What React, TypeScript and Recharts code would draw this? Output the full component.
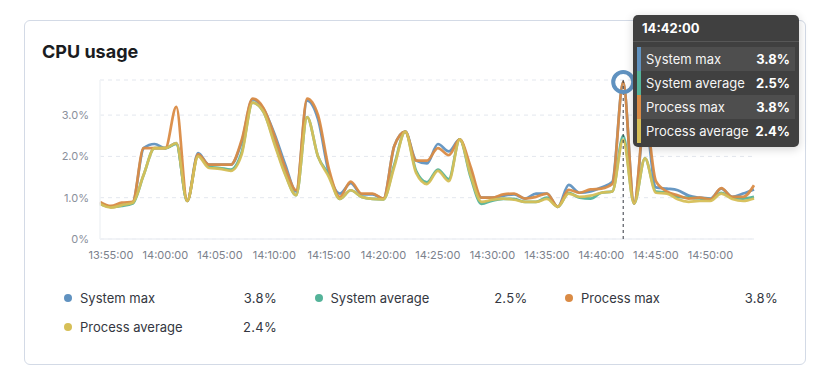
import React from 'react';
import { LineChart, Line, XAxis, YAxis, CartesianGrid, Tooltip } from 'recharts';

// Time axis: minute offsets from 13:54:00, one point per minute
const startMinuteOfDay = 13 * 60 + 54;

const systemMax = [
  0.88, 0.78, 0.82, 0.88, 2.2, 2.3, 2.2, 2.32, 0.92, 2.08,
  1.8, 1.8, 1.8, 2.35, 3.38, 3.15, 2.55, 1.8, 1.15, 3.35,
  2.9, 1.6, 1.1, 1.35, 1.08, 1.08, 0.98, 2.25, 2.6, 1.9,
  1.83, 2.3, 2.12, 2.41, 1.65, 1.0, 1.0, 1.05, 1.08, 0.98,
  1.1, 1.1, 0.78, 1.31, 1.12, 1.15, 1.25, 1.38, 3.8, 0.86,
  2.9, 1.25, 1.22, 1.18, 1.05, 1.0, 0.98, 1.22, 1.02, 1.1,
  1.2,
];
const systemAvg = [
  0.85, 0.78, 0.8, 0.86, 1.55, 2.2, 2.2, 2.3, 0.92, 2.02,
  1.75, 1.72, 1.68, 2.1, 3.3, 3.08, 2.35, 1.58, 1.06, 2.95,
  2.0, 1.55, 0.97, 1.18, 1.02, 0.97, 0.96, 1.8, 2.6, 1.65,
  1.37, 1.68, 1.45, 2.41, 1.5, 0.85, 0.93, 0.97, 0.97, 0.9,
  0.9, 1.0, 0.78, 1.12, 1.0, 0.98, 1.12, 1.15, 2.5, 0.86,
  1.95, 1.15, 1.12, 1.02, 1.0, 0.98, 0.96, 1.12, 1.0, 0.98,
  1.02,
];
const processMax = [
  0.9, 0.8, 0.88, 0.9, 2.2, 2.2, 2.2, 3.2, 0.92, 2.05,
  1.8, 1.8, 1.8, 2.4, 3.4, 3.17, 2.5, 1.72, 1.18, 3.4,
  3.0, 1.7, 1.02, 1.39, 1.1, 1.1, 0.98, 2.25, 2.6, 1.9,
  1.9, 2.2, 2.03, 2.41, 1.75, 1.0, 1.0, 1.08, 1.1, 0.98,
  1.02, 1.1, 0.78, 1.19, 1.12, 1.2, 1.22, 1.33, 3.8, 0.86,
  3.0, 1.4, 1.15, 1.06, 0.98, 1.0, 0.96, 1.23, 1.02, 1.02,
  1.3,
];
const processAvg = [
  0.85, 0.76, 0.82, 0.88, 1.55, 2.2, 2.2, 2.32, 0.92, 2.0,
  1.72, 1.7, 1.65, 2.05, 3.3, 3.08, 2.3, 1.55, 1.06, 2.95,
  2.0, 1.5, 0.97, 1.18, 1.02, 0.97, 0.96, 1.75, 2.6, 1.6,
  1.33, 1.65, 1.4, 2.41, 1.55, 0.9, 0.95, 0.98, 0.95, 0.9,
  0.9, 0.97, 0.78, 1.1, 1.02, 1.05, 1.12, 1.15, 2.4, 0.86,
  1.95, 1.12, 1.1, 0.96, 0.9, 0.92, 0.92, 1.1, 0.97, 0.92,
  0.98,
];

const seriesKeys = ['systemMax', 'systemAvg', 'processMax', 'processAvg'];
const seriesNames = ['System max', 'System average', 'Process max', 'Process average'];
const seriesColors = ['#6092C0', '#54B399', '#DA8B45', '#D6BF57'];

const yTicks = [0, 1, 2, 3];
const xTicks = [1, 6, 11, 16, 21, 26, 31, 36, 41, 46, 51, 56];
const xTickLabels = [
  '13:55:00', '14:00:00', '14:05:00', '14:10:00', '14:15:00', '14:20:00',
  '14:25:00', '14:30:00', '14:35:00', '14:40:00', '14:45:00', '14:50:00',
];
const activeIndex = 48;

const data = systemMax.map((v, i) => ({
  t: i,
  systemMax: v,
  systemAvg: systemAvg[i],
  processMax: processMax[i],
  processAvg: processAvg[i],
}));

const pad = (n: number) => (n < 10 ? '0' + n : '' + n);
const formatTime = (i: number) => {
  const m = startMinuteOfDay + i;
  return pad(Math.floor(m / 60)) + ':' + pad(m % 60) + ':00';
};
const formatPct = (v: number) => (v === 0 ? '0%' : v.toFixed(1) + '%');

const FONT = 'Inter, "Noto Sans", sans-serif';

const TooltipBox = (props: any) => {
  const { payload, label } = props;
  if (!payload || !payload.length) return null;
  return (
    <div
      style={{
        width: 166,
        height: 132,
        background: '#404040',
        borderRadius: 5,
        boxShadow: '0 2px 10px rgba(0,0,0,0.18)',
        fontFamily: FONT,
        color: '#fff',
        position: 'relative',
        boxSizing: 'border-box',
      }}
    >
      <div style={{ position: 'absolute', left: 9, top: 4, fontSize: 13, fontWeight: 700, lineHeight: '18px' }}>
        {formatTime(label)}
      </div>
      <div style={{ position: 'absolute', left: 0, right: 0, top: 26, height: 1, background: '#575757' }} />
      {seriesKeys.map((k, idx) => {
        const p = payload.find((q: any) => q.dataKey === k);
        const val = p ? p.value : 0;
        return (
          <div
            key={k}
            style={{
              position: 'absolute',
              left: 4,
              width: 158,
              top: 32 + idx * 24,
              height: 24,
              background: idx % 2 === 0 ? '#4e4e4e' : 'transparent',
            }}
          >
            <div style={{ position: 'absolute', left: 0, top: 0, width: 4, height: 24, background: seriesColors[idx] }} />
            <div style={{ position: 'absolute', left: 9, top: 3, fontSize: 13, lineHeight: '18px', color: '#f5f5f5' }}>
              {seriesNames[idx]}
            </div>
            <div style={{ position: 'absolute', right: 5, top: 3, fontSize: 13, lineHeight: '18px', fontWeight: 700 }}>
              {formatPct(val)}
            </div>
          </div>
        );
      })}
    </div>
  );
};

export default function App() {
  const activeRow = data[activeIndex];
  return (
    <div style={{ position: 'absolute', left: 0, top: 0, width: 813, height: 371, background: '#fff', fontFamily: FONT }}>
      <div
        style={{
          position: 'absolute',
          left: 24,
          top: 20,
          width: 782,
          height: 345,
          border: '1px solid #D3DAE6',
          borderRadius: 6,
          boxSizing: 'border-box',
          background: '#fff',
        }}
      />
      <div
        style={{
          position: 'absolute',
          left: 42,
          top: 43,
          fontSize: 18,
          lineHeight: '18px',
          fontWeight: 700,
          color: '#1a1c21',
        }}
      >
        CPU usage
      </div>
      {seriesKeys.map((k, idx) => {
        const col = idx % 3;
        const row = Math.floor(idx / 3);
        return (
          <div
            key={k}
            style={{
              position: 'absolute',
              left: 64 + col * 250.5,
              top: 289 + row * 28.5,
              width: 213,
              height: 18,
              fontSize: 13,
              lineHeight: '18px',
              color: '#343741',
            }}
          >
            <div
              style={{
                position: 'absolute',
                left: 0,
                top: 5,
                width: 8,
                height: 8,
                borderRadius: 4,
                background: seriesColors[idx],
              }}
            />
            <div style={{ position: 'absolute', left: 16, top: 0 }}>{seriesNames[idx]}</div>
            <div style={{ position: 'absolute', right: 0, top: 0, letterSpacing: 0.3 }}>
              {formatPct((activeRow as any)[k])}
            </div>
          </div>
        );
      })}
      <div style={{ position: 'absolute', left: 0, top: 0 }}>
        <LineChart width={813} height={371} data={data} margin={{ top: 80, right: 59, bottom: 102, left: 40 }}>
          <CartesianGrid vertical={false} stroke="#E3E7EE" strokeDasharray="4 4" />
          <XAxis
            dataKey="t"
            type="number"
            domain={[0, 60]}
            ticks={xTicks}
            tickFormatter={(v: number) => xTickLabels[xTicks.indexOf(v)]}
            height={30}
            tickLine={false}
            tickSize={0}
            tickMargin={12}
            axisLine={{ stroke: '#EEF0F4', strokeWidth: 1.5 }}
            tick={{ fontSize: 11, fill: '#7B818C', fontFamily: FONT }}
            interval={0}
          />
          <YAxis
            type="number"
            domain={[0, 3.85]}
            ticks={yTicks}
            tickFormatter={formatPct}
            width={60}
            tickLine={false}
            tickSize={0}
            tickMargin={11}
            axisLine={{ stroke: '#F1F3F6', strokeWidth: 1.5 }}
            tick={{ fontSize: 11, fill: '#8A909B', fontFamily: FONT }}
          />
          <Tooltip
            defaultIndex={activeIndex}
            active
            position={{ x: 633, y: 15 }}
            content={<TooltipBox />}
            cursor={{ stroke: '#343741', strokeWidth: 1, strokeDasharray: '3 3' }}
            isAnimationActive={false}
            wrapperStyle={{ outline: 'none' }}
            allowEscapeViewBox={{ x: true, y: true }}
          />
          {seriesKeys.map((k, idx) => (
            <Line
              key={k}
              type="monotone"
              dataKey={k}
              name={seriesNames[idx]}
              stroke={seriesColors[idx]}
              strokeWidth={2.7}
              strokeOpacity={0.95}
              dot={false}
              activeDot={
                idx === 0
                  ? { r: 10, stroke: seriesColors[0], strokeWidth: 4, fill: 'none' }
                  : false
              }
              isAnimationActive={false}
            />
          ))}
        </LineChart>
      </div>
    </div>
  );
}
